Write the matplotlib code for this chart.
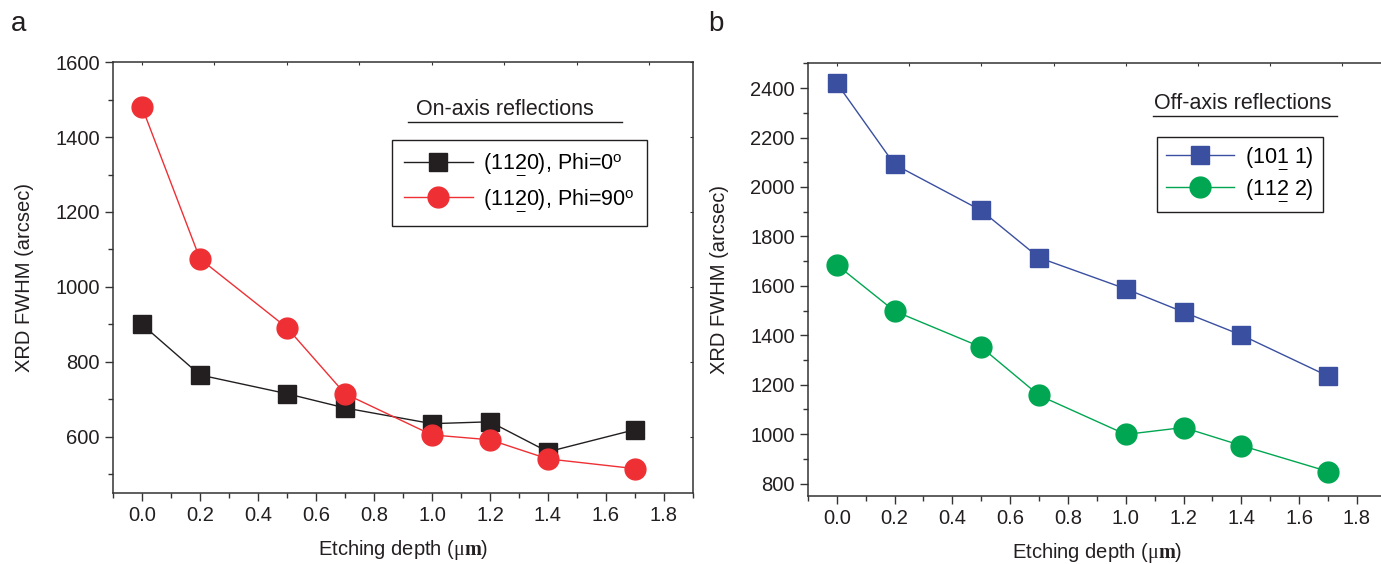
import matplotlib
matplotlib.use('Agg')
import matplotlib.pyplot as plt
from matplotlib.ticker import MultipleLocator

plt.rcParams['font.family'] = ['Liberation Sans', 'DejaVu Sans']
plt.rcParams['mathtext.fontset'] = 'custom'
plt.rcParams['mathtext.rm'] = 'Liberation Sans'
plt.rcParams['mathtext.sf'] = 'Liberation Sans'
plt.rcParams['mathtext.it'] = 'Liberation Serif'
plt.rcParams['mathtext.bf'] = 'Liberation Serif:bold'

# data
depth = [0.0, 0.2, 0.5, 0.7, 1.0, 1.2, 1.4, 1.7]
on_phi0 = [900, 765, 715, 677, 635, 640, 560, 619]
on_phi90 = [1480, 1075, 891, 715, 605, 592, 541, 515]
off_1011 = [2420, 2091, 1905, 1714, 1588, 1494, 1401, 1235]
off_1122 = [1685, 1498, 1352, 1157, 999, 1027, 954, 849]


def ul(d):
    # underlined digit (bar index in Miller-Bravais notation)
    return r'$\underset{\_}{\mathrm{' + d + '}}$'


# check that mathtext can handle it, fall back to a plain digit otherwise
try:
    _f = plt.figure()
    _f.text(0.5, 0.5, ul('2'))
    _f.canvas.draw()
    plt.close(_f)
except Exception:
    plt.close('all')

    def ul(d):
        return d

lab_phi0 = '(11' + ul('2') + '0), Phi=0$^\\mathrm{o}$'
lab_phi90 = '(11' + ul('2') + '0), Phi=90$^\\mathrm{o}$'
lab_1011 = '(10' + ul('1') + ' 1)'
lab_1122 = '(11' + ul('2') + ' 2)'

fig = plt.figure(figsize=(13.81, 5.64), dpi=100)
ax1 = fig.add_axes([0.0818, 0.1259, 0.420, 0.764])
ax2 = fig.add_axes([0.585, 0.1206, 0.4185, 0.767])

spine_col = '#333333'
txt_col = '#231f20'


def style(ax):
    for s in ax.spines.values():
        s.set_linewidth(1.1)
        s.set_color(spine_col)
    ax.tick_params(which='both', direction='out', colors=spine_col, labelcolor=txt_col,
                   labelsize=14.5, width=1.0)
    ax.tick_params(which='major', length=6)
    ax.tick_params(which='minor', length=3.5)
    ax.xaxis.set_major_locator(MultipleLocator(0.2))
    ax.xaxis.set_minor_locator(MultipleLocator(0.1))
    ax.set_xlim(-0.1, 1.9)
    ax.set_xlabel('Etching depth ($\\mu\\mathbf{m}$)', fontsize=14.5, color=txt_col, labelpad=9)
    ax.set_ylabel('XRD FWHM (arcsec)', fontsize=14.5, color=txt_col, labelpad=15)
    sec = ax.secondary_xaxis('top')
    sec.tick_params(direction='in', length=2, labeltop=False, colors=spine_col)
    sec.spines['top'].set_visible(False)
    secy = ax.secondary_yaxis('right')
    secy.tick_params(direction='in', length=2, labelright=False, colors=spine_col)
    secy.spines['right'].set_visible(False)


# panel a
style(ax1)
ax1.plot(depth, on_phi0, color=txt_col, lw=1.0, marker='s', ms=13, label=lab_phi0)
ax1.plot(depth, on_phi90, color='#ee3035', lw=1.0, marker='o', ms=15, label=lab_phi90)
ax1.set_ylim(450, 1600)
ax1.yaxis.set_major_locator(MultipleLocator(200))
ax1.yaxis.set_minor_locator(MultipleLocator(100))
ax1.text(0.676, 0.889, 'On-axis reflections', transform=ax1.transAxes, ha='center',
         va='center', fontsize=15.5, color=txt_col)
ax1.plot([0.509, 0.878], [0.861, 0.861], transform=ax1.transAxes, color=txt_col, lw=1.0,
         clip_on=False)
leg1 = ax1.legend(loc='upper left', bbox_to_anchor=(0.481, 0.819), borderaxespad=0,
                  fontsize=15.5, handlelength=3.2, fancybox=False, framealpha=1,
                  edgecolor=txt_col, labelspacing=0.42, borderpad=0.55, handletextpad=0.5)
leg1.get_frame().set_linewidth(1.0)
fig.text(0.008, 0.945, 'a', fontsize=20, color=txt_col)

# panel b
style(ax2)
ax2.plot(depth, off_1011, color='#3a4fa0', lw=1.0, marker='s', ms=13, label=lab_1011)
ax2.plot(depth, off_1122, color='#00a651', lw=1.0, marker='o', ms=15, label=lab_1122)
ax2.set_ylim(750, 2500)
ax2.yaxis.set_major_locator(MultipleLocator(200))
ax2.yaxis.set_minor_locator(MultipleLocator(100))
ax2.text(0.753, 0.908, 'Off-axis reflections', transform=ax2.transAxes, ha='center',
         va='center', fontsize=15.5, color=txt_col)
ax2.plot([0.597, 0.915], [0.878, 0.878], transform=ax2.transAxes, color=txt_col, lw=1.0,
         clip_on=False)
leg2 = ax2.legend(loc='upper left', bbox_to_anchor=(0.604, 0.831), borderaxespad=0,
                  fontsize=15.5, handlelength=3.2, fancybox=False, framealpha=1,
                  edgecolor=txt_col, labelspacing=0.25, borderpad=0.4, handletextpad=0.5)
leg2.get_frame().set_linewidth(1.0)
fig.text(0.513, 0.945, 'b', fontsize=20, color=txt_col)

fig.savefig('out.png', dpi=100)
